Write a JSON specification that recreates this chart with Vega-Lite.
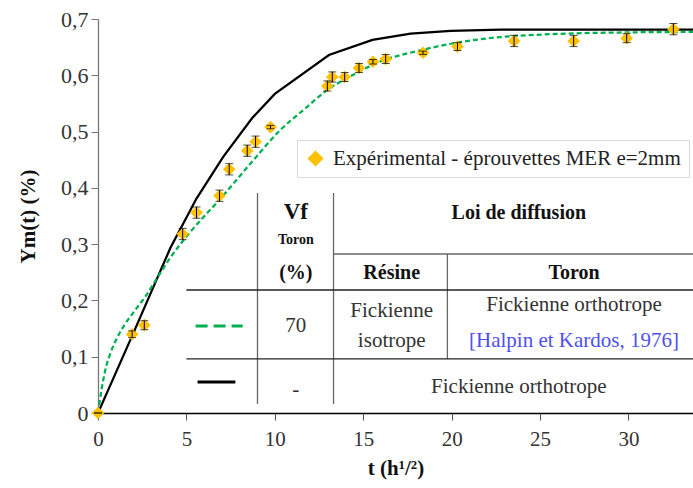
{
  "$schema": "https://vega.github.io/schema/vega-lite/v6.json",
  "width": 595,
  "height": 394,
  "autosize": "none",
  "padding": {"left": 98, "top": 19, "right": 0, "bottom": 75},
  "background": "white",
  "config": {
    "view": {"stroke": null},
    "font": "Liberation Serif",
    "text": {"font": "Liberation Serif"},
    "axis": {"grid": false, "labelFont": "Liberation Serif", "titleFont": "Liberation Serif", "labelColor": "#333333", "titleColor": "#111111"},
    "legend": {"labelFont": "Liberation Serif"}
  },
  "datasets": {
    "exp": [
      {"t": 0, "y": 0, "lo": 0, "hi": 0},
      {"t": 1.93, "y": 0.140, "lo": 0.134, "hi": 0.146},
      {"t": 2.62, "y": 0.156, "lo": 0.148, "hi": 0.164},
      {"t": 4.79, "y": 0.318, "lo": 0.308, "hi": 0.328},
      {"t": 5.57, "y": 0.356, "lo": 0.346, "hi": 0.366},
      {"t": 6.87, "y": 0.386, "lo": 0.376, "hi": 0.396},
      {"t": 7.42, "y": 0.433, "lo": 0.423, "hi": 0.443},
      {"t": 8.44, "y": 0.466, "lo": 0.456, "hi": 0.476},
      {"t": 8.91, "y": 0.482, "lo": 0.472, "hi": 0.492},
      {"t": 9.76, "y": 0.508, "lo": 0.505, "hi": 0.511},
      {"t": 12.97, "y": 0.581, "lo": 0.572, "hi": 0.590},
      {"t": 13.25, "y": 0.597, "lo": 0.588, "hi": 0.606},
      {"t": 13.95, "y": 0.597, "lo": 0.589, "hi": 0.605},
      {"t": 14.76, "y": 0.613, "lo": 0.605, "hi": 0.621},
      {"t": 15.55, "y": 0.624, "lo": 0.620, "hi": 0.628},
      {"t": 16.27, "y": 0.629, "lo": 0.621, "hi": 0.637},
      {"t": 18.38, "y": 0.640, "lo": 0.637, "hi": 0.643},
      {"t": 20.33, "y": 0.651, "lo": 0.644, "hi": 0.658},
      {"t": 23.53, "y": 0.661, "lo": 0.651, "hi": 0.671},
      {"t": 26.9, "y": 0.661, "lo": 0.651, "hi": 0.671},
      {"t": 29.9, "y": 0.666, "lo": 0.658, "hi": 0.674},
      {"t": 32.54, "y": 0.682, "lo": 0.672, "hi": 0.692}
    ],
    "green": [
      {"t": 0, "y": 0}, {"t": 0.08, "y": 0.017}, {"t": 0.23, "y": 0.047}, {"t": 0.41, "y": 0.076},
      {"t": 0.70, "y": 0.106}, {"t": 1.07, "y": 0.133}, {"t": 1.55, "y": 0.159}, {"t": 2.11, "y": 0.183},
      {"t": 2.68, "y": 0.207}, {"t": 3.15, "y": 0.230}, {"t": 4.09, "y": 0.276}, {"t": 5.23, "y": 0.322},
      {"t": 6.93, "y": 0.381}, {"t": 8.81, "y": 0.450}, {"t": 10.32, "y": 0.503}, {"t": 11.64, "y": 0.539},
      {"t": 12.97, "y": 0.574}, {"t": 14.5, "y": 0.602}, {"t": 16.17, "y": 0.627}, {"t": 18.06, "y": 0.643},
      {"t": 19.95, "y": 0.656}, {"t": 22.78, "y": 0.668}, {"t": 25.6, "y": 0.673}, {"t": 29.4, "y": 0.676},
      {"t": 33.65, "y": 0.677}
    ],
    "black": [
      {"t": 0, "y": 0}, {"t": 1.93, "y": 0.137}, {"t": 4.09, "y": 0.293}, {"t": 5.57, "y": 0.381},
      {"t": 7.08, "y": 0.455}, {"t": 8.72, "y": 0.524}, {"t": 10.0, "y": 0.567}, {"t": 13.06, "y": 0.636},
      {"t": 15.52, "y": 0.663}, {"t": 17.68, "y": 0.674}, {"t": 19.95, "y": 0.679}, {"t": 22.78, "y": 0.681},
      {"t": 33.65, "y": 0.681}
    ]
  },
  "encoding": {
    "x": {"field": "t", "type": "quantitative", "scale": {"domain": [0, 33.65], "nice": false, "zero": false},
      "axis": {"values": [0, 5, 10, 15, 20, 25, 30], "title": "t (h¹/²)", "titleFontSize": 21, "titleFontWeight": "bold", "titlePadding": 8,
        "labelFontSize": 21, "labelPadding": 8, "tickSize": 7, "tickColor": "#555555", "domainColor": "#000000", "domainWidth": 1.3, "labelFlush": false}},
    "y": {"field": "y", "type": "quantitative", "scale": {"domain": [0, 0.7], "nice": false},
      "axis": {"values": [0, 0.1, 0.2, 0.3, 0.4, 0.5, 0.6, 0.7], "title": "Ym(t) (%)", "titleFontSize": 21, "titleFontWeight": "bold", "titlePadding": 22,
        "labelFontSize": 22, "labelPadding": 3, "tickSize": 7, "tickColor": "#777777", "domainColor": "#777777", "domainWidth": 1.3,
        "labelExpr": "datum.value == 0 ? '0' : replace(format(datum.value, '.1f'), '.', ',')"}}
  },
  "layer": [
    {"data": {"name": "black"}, "mark": {"type": "line", "color": "#000000", "strokeWidth": 2.25, "clip": true}},
    {"data": {"name": "green"}, "mark": {"type": "line", "color": "#00B050", "strokeWidth": 2.25, "strokeDash": [5, 3], "interpolate": "monotone", "clip": true}},
    {"data": {"name": "exp"},
      "mark": {"type": "point", "shape": "diamond", "filled": true, "size": 160, "opacity": 1},
      "encoding": {"color": {"datum": "Expérimental - éprouvettes MER e=2mm", "type": "nominal",
        "scale": {"range": ["#FFC000"]},
        "legend": {"title": null, "orient": "none", "legendX": 199, "legendY": 121, "strokeColor": "#d9d9d9", "fillColor": "white",
          "padding": 8, "labelFontSize": 21, "labelFont": "Liberation Serif", "labelColor": "#222222", "labelLimit": 0, "labelOffset": 7,
          "symbolType": "diamond", "symbolSize": 260, "symbolStrokeWidth": 0, "symbolOffset": 0}}}},
    {"data": {"name": "exp"}, "mark": {"type": "errorbar", "color": "#000000", "ticks": {"size": 8, "color": "#000000"}, "thickness": 1},
      "encoding": {"y": {"field": "lo", "type": "quantitative"}, "y2": {"field": "hi"}}},
    {"data": {"values": [
        {"t": 9.02, "y": 0.391, "t2": 9.02, "y2": 0.016},
        {"t": 13.32, "y": 0.391, "t2": 13.32, "y2": 0.016},
        {"t": 13.32, "y": 0.2825, "t2": 33.65, "y2": 0.2825},
        {"t": 19.76, "y": 0.2825, "t2": 19.76, "y2": 0.096}
      ]},
      "mark": {"type": "rule", "color": "#666666", "strokeWidth": 1.3},
      "encoding": {"x2": {"field": "t2"}, "y2": {"field": "y2"}}},
    {"data": {"values": [
        {"t": 5.0, "y": 0.2185, "t2": 33.65, "y2": 0.2185},
        {"t": 5.0, "y": 0.096, "t2": 33.65, "y2": 0.096}
      ]},
      "mark": {"type": "rule", "color": "#222222", "strokeWidth": 1.3},
      "encoding": {"x2": {"field": "t2"}, "y2": {"field": "y2"}}},
    {"data": {"values": [{"t": 5.52, "y": 0.1546, "t2": 8.18}]},
      "mark": {"type": "rule", "color": "#00B050", "strokeWidth": 3, "strokeDash": [12, 6]},
      "encoding": {"x2": {"field": "t2"}}},
    {"data": {"values": [{"t": 5.63, "y": 0.055, "t2": 7.77}]},
      "mark": {"type": "rule", "color": "#000000", "strokeWidth": 3},
      "encoding": {"x2": {"field": "t2"}}},
    {"data": {"values": [{"t": 11.19, "y": 0.357, "label": "Vf"}]},
      "mark": {"type": "text", "font": "Liberation Serif", "fontSize": 23, "fontWeight": "bold", "color": "#111111", "baseline": "middle"},
      "encoding": {"text": {"field": "label"}}},
    {"data": {"values": [{"t": 11.19, "y": 0.307, "label": "Toron"}]},
      "mark": {"type": "text", "font": "Liberation Serif", "fontSize": 14, "fontWeight": "bold", "color": "#111111", "baseline": "middle"},
      "encoding": {"text": {"field": "label"}}},
    {"data": {"values": [
        {"t": 11.19, "y": 0.249, "label": "(%)"},
        {"t": 23.8, "y": 0.355, "label": "Loi de diffusion"},
        {"t": 16.61, "y": 0.249, "label": "Résine"},
        {"t": 26.92, "y": 0.249, "label": "Toron"}
      ]},
      "mark": {"type": "text", "font": "Liberation Serif", "fontSize": 20, "fontWeight": "bold", "color": "#111111", "baseline": "middle"},
      "encoding": {"text": {"field": "label"}}},
    {"data": {"values": [
        {"t": 11.19, "y": 0.1546, "label": "70"},
        {"t": 16.61, "y": 0.181, "label": "Fickienne"},
        {"t": 16.61, "y": 0.128, "label": "isotrope"},
        {"t": 26.92, "y": 0.192, "label": "Fickienne orthotrope"},
        {"t": 11.19, "y": 0.041, "label": "-"},
        {"t": 23.8, "y": 0.046, "label": "Fickienne  orthotrope"}
      ]},
      "mark": {"type": "text", "font": "Liberation Serif", "fontSize": 21, "color": "#333333", "baseline": "middle"},
      "encoding": {"text": {"field": "label"}}},
    {"data": {"values": [{"t": 26.92, "y": 0.128, "label": "[Halpin et Kardos, 1976]"}]},
      "mark": {"type": "text", "font": "Liberation Serif", "fontSize": 21, "color": "#4F4FF0", "baseline": "middle"},
      "encoding": {"text": {"field": "label"}}}
  ]
}
